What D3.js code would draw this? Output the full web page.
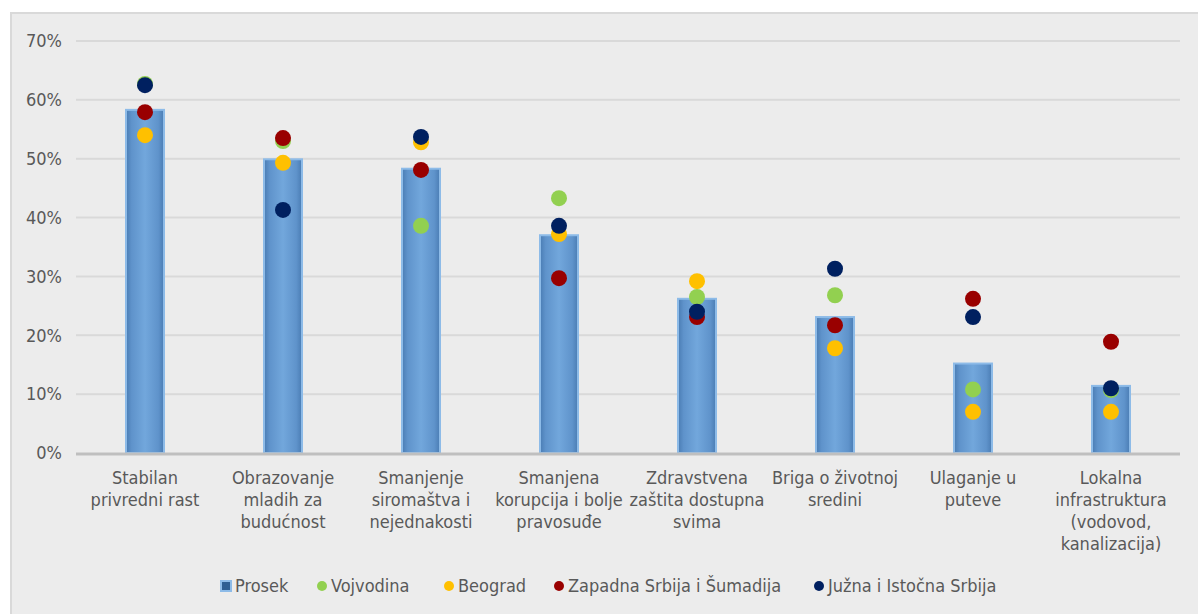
<!DOCTYPE html>
<html><head><meta charset="utf-8">
<script src="https://cdn.jsdelivr.net/npm/d3@7"></script>
<style>
html,body{margin:0;padding:0;background:#fff;}
svg{display:block;}
text{font-family:"DejaVu Sans Condensed","DejaVu Sans",sans-serif;fill:#595959;}
</style></head>
<body>
<svg id="chart" width="1198" height="614"></svg>
<script>
const categories = [
  "Stabilan\nprivredni rast",
  "Obrazovanje\nmladih za\nbudućnost",
  "Smanjenje\nsiromaštva i\nnejednakosti",
  "Smanjena\nkorupcija i bolje\npravosuđe",
  "Zdravstvena\nzaštita dostupna\nsvima",
  "Briga o životnoj\nsredini",
  "Ulaganje u\nputeve",
  "Lokalna\ninfrastruktura\n(vodovod,\nkanalizacija)"
];
const prosek    = [58.3, 49.9, 48.3, 37.0, 26.2, 23.1, 15.2, 11.4];
const vojvodina = [62.7, 53.0, 38.6, 43.3, 26.5, 26.8, 10.8, 10.7];
const beograd   = [54.0, 49.3, 52.8, 37.2, 29.2, 17.8, 7.0, 7.0];
const zapadna   = [57.9, 53.5, 48.1, 29.7, 23.1, 21.7, 26.2, 18.9];
const juzna     = [62.5, 41.3, 53.7, 38.6, 24.0, 31.3, 23.1, 11.0];
const yTicks = [0, 10, 20, 30, 40, 50, 60, 70];
const seriesNames = ["Prosek", "Vojvodina", "Beograd", "Zapadna Srbija i Šumadija", "Južna i Istočna Srbija"];
const dotSeries = [
  {name: "Vojvodina", values: vojvodina, color: "#92d050"},
  {name: "Beograd", values: beograd, color: "#ffc000"},
  {name: "Zapadna Srbija i Šumadija", values: zapadna, color: "#990000"},
  {name: "Južna i Istočna Srbija", values: juzna, color: "#002060"}
];

(function () {
const svg = d3.select("#chart");
svg.append("rect").attr("x", 11).attr("y", 13).attr("width", 1198).attr("height", 614)
  .attr("fill", "#ececec").attr("stroke", "#d9d9d9").attr("stroke-width", 2);

const defs = svg.append("defs");
const grad = defs.append("linearGradient").attr("id", "barGrad").attr("x1", "0").attr("x2", "1").attr("y1", "0").attr("y2", "0");
grad.append("stop").attr("offset", "0%").attr("stop-color", "#4a7cb3");
grad.append("stop").attr("offset", "15%").attr("stop-color", "#5f93cb");
grad.append("stop").attr("offset", "50%").attr("stop-color", "#72a7dc");
grad.append("stop").attr("offset", "85%").attr("stop-color", "#5f93cb");
grad.append("stop").attr("offset", "100%").attr("stop-color", "#4a7cb3");

const mLeft = 76, mRight = 1180, mTop = 41, mBottom = 453;
const x = d3.scaleBand().domain(categories).range([mLeft, mRight]).paddingInner(0).paddingOuter(0);
const y = d3.scaleLinear().domain([0, 70]).range([mBottom, mTop]);
const fontSize = 18;

svg.append("g").selectAll("line").data(yTicks.filter(d => d > 0)).join("line")
  .attr("x1", mLeft).attr("x2", mRight)
  .attr("y1", d => y(d)).attr("y2", d => y(d))
  .attr("stroke", "#d9d9d9").attr("stroke-width", 2);

const yAxis = d3.axisLeft(y).tickValues(yTicks).tickFormat(d => d + "%").tickSize(0).tickPadding(0);
const yg = svg.append("g").attr("transform", `translate(${mLeft - 14},0)`).call(yAxis);
yg.select(".domain").remove();
yg.selectAll("text").attr("font-size", fontSize).attr("fill", "#595959")
  .style("font-family", '"DejaVu Sans Condensed","DejaVu Sans",sans-serif');

const bw = 38;
svg.append("g").selectAll("rect").data(prosek).join("rect")
  .attr("x", (d, i) => x(categories[i]) + x.bandwidth() / 2 - bw / 2)
  .attr("y", d => y(d))
  .attr("width", bw)
  .attr("height", d => mBottom - y(d))
  .attr("fill", "url(#barGrad)")
  .attr("stroke", "#8dbbe8").attr("stroke-width", 2);

svg.append("line").attr("x1", mLeft).attr("x2", mRight).attr("y1", mBottom + 1).attr("y2", mBottom + 1)
  .attr("stroke", "#bfbfbf").attr("stroke-width", 3);

dotSeries.forEach(s => {
  svg.append("g").selectAll("circle").data(s.values).join("circle")
    .attr("cx", (d, i) => x(categories[i]) + x.bandwidth() / 2)
    .attr("cy", d => y(d))
    .attr("r", 8)
    .attr("fill", s.color);
});

const xg = svg.append("g");
categories.forEach((c, i) => {
  const t = xg.append("text").attr("text-anchor", "middle").attr("font-size", fontSize)
    .attr("x", x(c) + x.bandwidth() / 2).attr("y", 484);
  c.split("\n").forEach((line, j) => {
    t.append("tspan").attr("x", x(c) + x.bandwidth() / 2).attr("dy", j === 0 ? 0 : 22).text(line);
  });
});

const legendPos = [220, 316, 443, 553, 813];
const lg = svg.append("g");
seriesNames.forEach((n, i) => {
  const lx = legendPos[i], ly = 586;
  if (i === 0) {
    lg.append("rect").attr("x", lx + 1).attr("y", ly - 5).attr("width", 10).attr("height", 10)
      .attr("fill", "#2f5f93").attr("stroke", "#8dbbe8").attr("stroke-width", 2);
  } else {
    lg.append("circle").attr("cx", lx + 6).attr("cy", ly).attr("r", 5).attr("fill", dotSeries[i - 1].color);
  }
  lg.append("text").attr("x", lx + 15).attr("y", ly + 6).attr("font-size", fontSize).text(n);
});
})();
</script>
</body></html>
